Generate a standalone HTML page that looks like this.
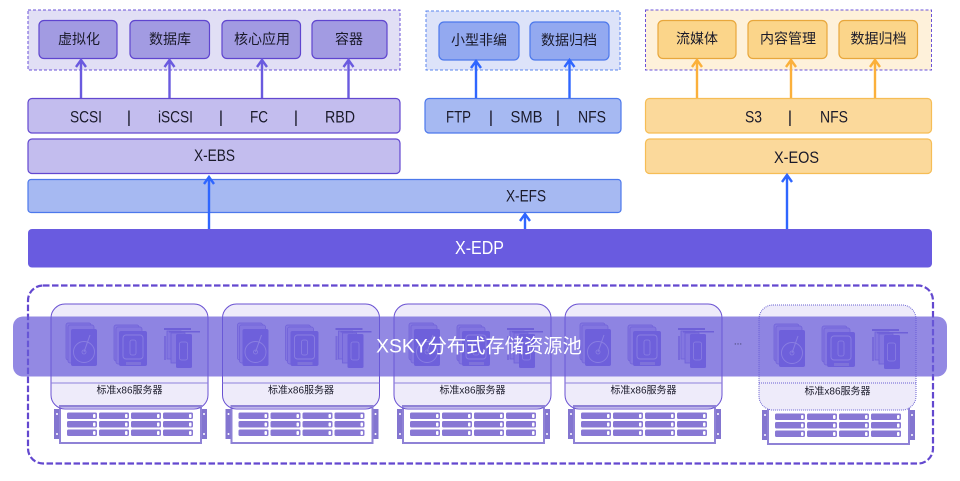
<!DOCTYPE html>
<html><head><meta charset="utf-8"><style>
html,body{margin:0;padding:0;background:#fff;width:960px;height:481px;overflow:hidden}
svg{display:block}
text{font-family:"Liberation Sans","Noto Sans CJK SC",sans-serif;text-anchor:middle;dominant-baseline:central;fill:#1a1a2a}
.t{font-size:14px}.m{font-size:17px}.s{font-size:10px}
.p{fill:#a29be2;stroke:#5f45cf;stroke-width:1.2}
.lp{fill:#c3bdee;stroke:#6348d0;stroke-width:1.2}
.b{fill:#93a9f0;stroke:#4c78ec;stroke-width:1.2}
.lb{fill:#a6b9f2;stroke:#4c78ec;stroke-width:1.2}
.o{fill:#fbd58a;stroke:#e8a73c;stroke-width:1.2}
.lo{fill:#fbd99b;stroke:#f6bd55;stroke-width:1.2}
.ap{stroke:#6a5adf}.ab{stroke:#2f66ff}.ao{stroke:#fbb03b}
.arr path{fill:none;stroke-width:2.4}
</style></head><body>
<svg width="960" height="481" viewBox="0 0 960 481" xmlns="http://www.w3.org/2000/svg">
<defs>
<g id="hdd">
<rect x="66" y="323" width="25" height="37" rx="2" fill="#c4bcf2" stroke="#7a6bd8" stroke-width=".7"/>
<rect x="68" y="325" width="26" height="38" rx="2" fill="#c4bcf2" stroke="#7a6bd8" stroke-width=".7"/>
<rect x="71" y="329" width="26" height="37" rx="2" fill="#7c6de2"/>
<circle cx="84" cy="352" r="10.500" fill="none" stroke="#dcd7f8" stroke-width=".9"/>
<circle cx="84" cy="352" r="2" fill="none" stroke="#dcd7f8" stroke-width=".8"/>
<path d="M84 352L90 335" stroke="#dcd7f8" stroke-width="1"/>
</g>
<g id="ssd">
<rect x="114" y="325" width="25" height="36" rx="2" fill="#c4bcf2" stroke="#7a6bd8" stroke-width=".7"/>
<rect x="116" y="327" width="26" height="37" rx="2" fill="#c4bcf2" stroke="#7a6bd8" stroke-width=".7"/>
<rect x="119" y="331" width="28" height="35" rx="2" fill="#7c6de2"/>
<rect x="123" y="335" width="20" height="24" rx="3" fill="none" stroke="#dcd7f8" stroke-width=".9"/>
<rect x="130" y="340" width="6" height="15" rx="2" fill="none" stroke="#dcd7f8" stroke-width=".8"/>
<rect x="126" y="362" width="15" height="3" fill="#b5addf"/>
</g>
<g id="card">
<rect x="164" y="328" width="27" height="2" fill="#7a6bd8"/>
<rect x="167" y="331" width="14" height="28" fill="#c4bcf2" stroke="#7a6bd8" stroke-width=".8"/>
<rect x="171" y="333" width="14" height="30" fill="#c4bcf2" stroke="#7a6bd8" stroke-width=".8"/>
<rect x="164" y="336" width="2" height="24" fill="#7a6bd8" opacity=".7"/>
<rect x="169" y="331" width="31" height="1.5" fill="#7a6bd8"/>
<rect x="176" y="334" width="16" height="34" rx="1.5" fill="#7c6de2"/>
<rect x="179.500" y="342" width="8" height="18" rx="2" fill="none" stroke="#dcd7f8" stroke-width=".8"/>
</g>
<g id="rack">
<rect x="54" y="409" width="153" height="30" fill="#8375d0"/>
<circle cx="57" cy="414" r="1" fill="#fff"/><circle cx="57" cy="434" r="1" fill="#fff"/>
<circle cx="204" cy="414" r="1" fill="#fff"/><circle cx="204" cy="434" r="1" fill="#fff"/>
<rect x="60" y="406" width="141" height="37" fill="#fff" stroke="#8f82d6" stroke-width="2"/>
<g fill="#8878d4">
<rect x="67" y="412.500" width="30" height="6.500" rx="1.500"/><rect x="99" y="412.500" width="30" height="6.500" rx="1.500"/><rect x="131" y="412.500" width="30" height="6.500" rx="1.500"/><rect x="163" y="412.500" width="30" height="6.500" rx="1.500"/>
<rect x="67" y="421" width="30" height="6.500" rx="1.500"/><rect x="99" y="421" width="30" height="6.500" rx="1.500"/><rect x="131" y="421" width="30" height="6.500" rx="1.500"/><rect x="163" y="421" width="30" height="6.500" rx="1.500"/>
<rect x="67" y="429.500" width="30" height="6.500" rx="1.500"/><rect x="99" y="429.500" width="30" height="6.500" rx="1.500"/><rect x="131" y="429.500" width="30" height="6.500" rx="1.500"/><rect x="163" y="429.500" width="30" height="6.500" rx="1.500"/>
</g>
<g fill="#fff">
<rect x="93" y="414" width="2.500" height="4" rx="1"/><rect x="125" y="414" width="2.500" height="4" rx="1"/><rect x="157" y="414" width="2.500" height="4" rx="1"/><rect x="189" y="414" width="2.500" height="4" rx="1"/>
<rect x="93" y="422.500" width="2.500" height="4" rx="1"/><rect x="125" y="422.500" width="2.500" height="4" rx="1"/><rect x="157" y="422.500" width="2.500" height="4" rx="1"/><rect x="189" y="422.500" width="2.500" height="4" rx="1"/>
<rect x="93" y="431" width="2.500" height="4" rx="1"/><rect x="125" y="431" width="2.500" height="4" rx="1"/><rect x="157" y="431" width="2.500" height="4" rx="1"/><rect x="189" y="431" width="2.500" height="4" rx="1"/>
</g>
</g>
<g id="srv">
<use href="#rack"/>
<rect x="51" y="304" width="157" height="105" rx="14" fill="#eeebfa" stroke="#6a52d2" stroke-width="1"/>
<line x1="51" y1="383" x2="208" y2="383" stroke="#8f80dc" stroke-width="1"/>
<use href="#hdd"/><use href="#ssd"/><use href="#card"/>
<text x="129.500" y="391" class="s">标准x86服务器</text>
<rect x="59" y="405" width="143" height="2.500" fill="#8f82d6"/>
</g>
</defs>

<rect x="28" y="10" width="372" height="60" fill="#e1dff5" stroke="#6a52d8" stroke-width="1" stroke-dasharray="3 2"/>
<rect x="426" y="11" width="194" height="59" fill="#dde3f9" stroke="#5a84ee" stroke-width="1" stroke-dasharray="3 2"/>
<rect x="645.500" y="10" width="286" height="60" fill="#fef1da" stroke="#6a52d8" stroke-width="1" stroke-dasharray="3 2"/>

<rect class="p" x="39" y="20.500" width="78" height="38" rx="5"/><text class="t" x="79" y="39">虚拟化</text>
<rect class="p" x="130" y="20.500" width="79.500" height="38" rx="5"/><text class="t" x="170" y="39">数据库</text>
<rect class="p" x="222" y="20.500" width="78.500" height="38" rx="5"/><text class="t" x="262" y="39">核心应用</text>
<rect class="p" x="312" y="20.500" width="75" height="38" rx="5"/><text class="t" x="349" y="39">容器</text>

<rect class="b" x="439" y="22" width="80" height="38" rx="5"/><text class="t" x="479" y="40">小型非编</text>
<rect class="b" x="530" y="22" width="79" height="38" rx="5"/><text class="t" x="569" y="40">数据归档</text>

<rect class="o" x="658" y="20.500" width="78" height="38" rx="5"/><text class="t" x="697" y="38.500">流媒体</text>
<rect class="o" x="748" y="20.500" width="79" height="38" rx="5"/><text class="t" x="788" y="38.500">内容管理</text>
<rect class="o" x="839" y="20.500" width="78.500" height="38" rx="5"/><text class="t" x="878.500" y="38.500">数据归档</text>

<g class="arr">
<path class="ap" d="M81 98V60M76 67L81 60L86 67"/>
<path class="ap" d="M169.500 98V60M164.500 67L169.500 60L174.500 67"/>
<path class="ap" d="M262 98V60M257 67L262 60L267 67"/>
<path class="ap" d="M348.500 98V60M343.500 67L348.500 60L353.500 67"/>
<path class="ab" d="M476 99V61M471 68L476 61L481 68"/>
<path class="ab" d="M569.500 99V60M564.500 67L569.500 60L574.500 67"/>
<path class="ao" d="M697 98V60M692 67L697 60L702 67"/>
<path class="ao" d="M791 98V60M786 67L791 60L796 67"/>
<path class="ao" d="M875 98V60M870 67L875 60L880 67"/>
</g>

<rect class="lp" x="28" y="98.500" width="372" height="34.500" rx="4"/>
<text class="m" x="86" y="117" textLength="32" lengthAdjust="spacingAndGlyphs">SCSI</text><text class="m" x="129" y="117">|</text><text class="m" x="175.500" y="117" textLength="35" lengthAdjust="spacingAndGlyphs">iSCSI</text><text class="m" x="221" y="117">|</text><text class="m" x="259" y="117" textLength="18" lengthAdjust="spacingAndGlyphs">FC</text><text class="m" x="296" y="117">|</text><text class="m" x="340" y="117" textLength="30" lengthAdjust="spacingAndGlyphs">RBD</text>
<rect class="lb" x="425" y="98.500" width="196" height="34.500" rx="4"/>
<text class="m" x="458.500" y="117" textLength="25" lengthAdjust="spacingAndGlyphs">FTP</text><text class="m" x="491" y="117">|</text><text class="m" x="526.500" y="117" textLength="32" lengthAdjust="spacingAndGlyphs">SMB</text><text class="m" x="558" y="117">|</text><text class="m" x="592" y="117" textLength="28" lengthAdjust="spacingAndGlyphs">NFS</text>
<rect class="lo" x="645.500" y="98.500" width="286" height="34.500" rx="4"/>
<text class="m" x="753.500" y="117" textLength="17" lengthAdjust="spacingAndGlyphs">S3</text><text class="m" x="790" y="117">|</text><text class="m" x="834" y="117" textLength="28" lengthAdjust="spacingAndGlyphs">NFS</text>

<rect class="lp" x="28" y="139" width="372" height="34.500" rx="4"/><text class="m" x="214.500" y="155.500" textLength="41" lengthAdjust="spacingAndGlyphs">X-EBS</text>
<rect class="lo" x="645.500" y="139" width="286" height="34.500" rx="4"/><text class="m" x="796.500" y="157.500" textLength="45" lengthAdjust="spacingAndGlyphs">X-EOS</text>
<rect class="lb" x="28" y="179.500" width="593" height="33" rx="3"/><text class="m" x="526" y="196" textLength="40" lengthAdjust="spacingAndGlyphs">X-EFS</text>
<rect x="28" y="229" width="904" height="38.500" rx="4" fill="#695be0"/>
<text x="479.500" y="248" style="font-size:18px;fill:#fff" textLength="49" lengthAdjust="spacingAndGlyphs">X-EDP</text>

<g class="arr">
<path class="ab" d="M209 229V177M204 184L209 177L214 184"/>
<path class="ab" d="M525 229V214M520 221L525 214L530 221"/>
<path class="ab" d="M787 229V175M782 182L787 175L792 182"/>
</g>

<rect x="28" y="285.500" width="905" height="178" rx="15" fill="none" stroke="#6348cf" stroke-width="2.200" stroke-dasharray="6.500 2.500"/>

<use href="#srv"/>
<use href="#srv" x="171.500"/>
<use href="#srv" x="343"/>
<use href="#srv" x="514"/>
<g transform="translate(708 1)">
<use href="#rack"/>
<rect x="51" y="304" width="157" height="105" rx="14" fill="#eeebfa" stroke="#6a62d2" stroke-width="1" stroke-dasharray="1 1"/>
<line x1="51" y1="382" x2="208" y2="382" stroke="#6a62d2" stroke-width="1" stroke-dasharray="1 1"/>
<use href="#hdd"/><use href="#ssd"/><use href="#card"/>
<text x="129.500" y="391" class="s">标准x86服务器</text>
</g>

<rect x="13" y="316.500" width="934" height="60" rx="10" fill="#6a5bd8" opacity=".72"/>
<text x="479" y="347" style="font-size:19.300px;fill:#fff">XSKY分布式存储资源池</text>
<text x="738" y="342" style="font-size:10px;fill:#3a3a60">...</text>
</svg>
</body></html>
